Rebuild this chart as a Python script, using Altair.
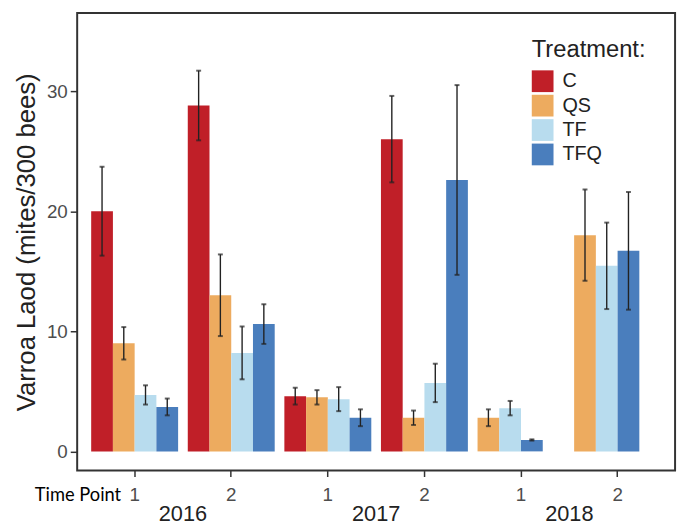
import altair as alt
import pandas as pd

# ---- data ----
group_year = ["2016", "2016", "2017", "2017", "2018", "2018"]
group_tp = ["1", "2", "1", "2", "1", "2"]
treatments = ["C", "QS", "TF", "TFQ"]
colors = ["#C01F28", "#EDAB5F", "#B8DCEE", "#4A7EBD"]

mean_C = [20.0, 28.8, 4.6, 26.0, None, None]
mean_QS = [9.0, 13.0, 4.5, 2.8, 2.8, 18.0]
mean_TF = [4.7, 8.2, 4.35, 5.7, 3.6, 15.45]
mean_TFQ = [3.7, 10.6, 2.8, 22.6, 0.95, 16.7]

se_C = [3.7, 2.9, 0.7, 3.6, None, None]
se_QS = [1.35, 3.4, 0.6, 0.6, 0.7, 3.8]
se_TF = [0.8, 2.2, 1.0, 1.6, 0.6, 3.6]
se_TFQ = [0.7, 1.65, 0.7, 7.9, 0.05, 4.9]

year_labels = ["2016", "2017", "2018"]

means = {"C": mean_C, "QS": mean_QS, "TF": mean_TF, "TFQ": mean_TFQ}
ses = {"C": se_C, "QS": se_QS, "TF": se_TF, "TFQ": se_TFQ}

rows = []
for g in range(len(group_year)):
    slot = 0
    for t in treatments:
        m = means[t][g]
        if m is None:
            continue
        s = ses[t][g]
        rows.append({
            "group": group_year[g] + "|" + group_tp[g],
            "year": group_year[g],
            "tp": group_tp[g],
            "Treatment": t,
            "slot": slot,
            "mean": m,
            "lo": m - s,
            "hi": m + s,
        })
        slot += 1
df = pd.DataFrame(rows)
groups = [y + "|" + t for y, t in zip(group_year, group_tp)]
years_df = pd.DataFrame({"year": year_labels})

W, H = 605, 463
PI, PO = 0.1, 0.145
FONT = "Liberation Sans"

xscale = alt.Scale(domain=groups, paddingInner=PI, paddingOuter=PO)
xoff = alt.XOffset("slot:O", scale=alt.Scale(domain=[0, 1, 2, 3], paddingInner=0, paddingOuter=0))
yscale = alt.Scale(domain=[-1.6, 36.5], nice=False, zero=False)

x_enc = alt.X(
    "group:N",
    scale=xscale,
    sort=groups,
    axis=alt.Axis(
        labelExpr="split(datum.value, '|')[1]",
        labelAngle=0,
        labelFontSize=19,
        labelColor="#4d4d4d",
        labelFont=FONT,
        labelPadding=9,
        tickSize=6,
        tickColor="#333333",
        tickWidth=1.5,
        domain=False,
        title="Time Point",
        titleFont="Lato",
        titleFontSize=18.5,
        titleFontWeight="normal",
        titleColor="#000000",
        titleAlign="right",
        titleAnchor="start",
        titleBaseline="middle",
        titleX=44,
        titleY=24,
        titlePadding=0,
    ),
)

y_enc = alt.Y(
    "mean:Q",
    scale=yscale,
    axis=alt.Axis(
        values=[0, 10, 20, 30],
        grid=False,
        domain=False,
        tickSize=7,
        tickColor="#333333",
        tickWidth=1.5,
        labelFontSize=19,
        labelColor="#4d4d4d",
        labelFont=FONT,
        labelPadding=3,
        title="Varroa Laod (mites/300 bees)",
        titleFont=FONT,
        titleFontSize=26,
        titleFontWeight="normal",
        titleColor="#222222",
        titlePadding=7,
    ),
)

bars = alt.Chart(df).mark_bar(opacity=1).encode(
    x=x_enc,
    xOffset=xoff,
    y=y_enc,
    color=alt.Color(
        "Treatment:N",
        scale=alt.Scale(domain=treatments, range=colors),
        legend=alt.Legend(
            title="Treatment:",
            orient="none",
            legendX=460,
            legendY=25,
            titleFont=FONT,
            titleFontSize=24,
            titleFontWeight="normal",
            titleColor="#222222",
            titlePadding=9,
            labelFont=FONT,
            labelFontSize=20,
            labelColor="#222222",
            labelOffset=9,
            symbolType="square",
            symbolSize=484,
            symbolStrokeWidth=0,
            symbolOpacity=1,
            rowPadding=2.7,
        ),
    ),
)

err = alt.Chart(df).mark_rule(color="#222222", strokeWidth=1.4).encode(
    x=alt.X("group:N", scale=xscale, sort=groups),
    xOffset=xoff,
    y=alt.Y("lo:Q", scale=yscale),
    y2="hi:Q",
)

cap_lo = alt.Chart(df).mark_tick(color="#222222", thickness=2, size=5, orient="horizontal").encode(
    x=alt.X("group:N", scale=xscale, sort=groups),
    xOffset=xoff,
    y=alt.Y("lo:Q", scale=yscale),
)
cap_hi = alt.Chart(df).mark_tick(color="#222222", thickness=2, size=5, orient="horizontal").encode(
    x=alt.X("group:N", scale=xscale, sort=groups),
    xOffset=xoff,
    y=alt.Y("hi:Q", scale=yscale),
)

main = alt.layer(bars, err, cap_lo, cap_hi)

PO_Y = (PO - PI / 2) / 2
year_layer = alt.Chart(years_df).mark_tick(opacity=0).encode(
    x=alt.X(
        "year:N",
        sort=year_labels,
        scale=alt.Scale(domain=year_labels, paddingInner=0, paddingOuter=PO_Y),
        axis=alt.Axis(
            orient="bottom",
            offset=34,
            domain=False,
            ticks=False,
            labelAngle=0,
            labelFontSize=22,
            labelColor="#222222",
            labelFont=FONT,
            labelPadding=0,
            title=None,
        ),
    ),
    y=alt.value(0),
)

chart = (
    alt.layer(main, year_layer)
    .resolve_scale(x="independent")
    .resolve_axis(x="independent")
    .properties(
        width=W,
        height=H,
        autosize=alt.AutoSizeParams(type="none"),
        padding={"left": 70, "top": 2, "right": 6, "bottom": 56},
        background="white",
    )
    .configure_view(stroke="#333333", strokeWidth=2)
)

chart.save("out.html", embed_options={"renderer": "svg", "actions": False})
